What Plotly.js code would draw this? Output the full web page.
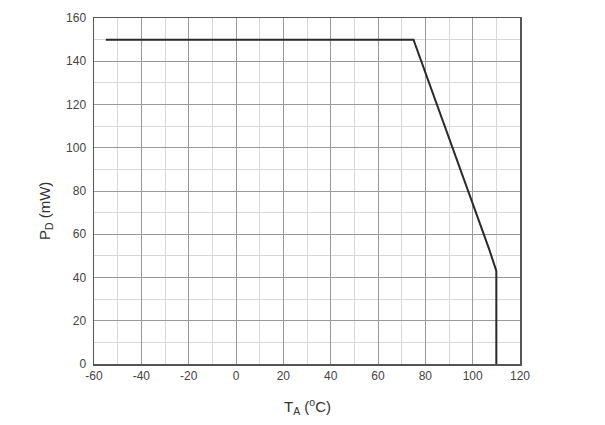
<!DOCTYPE html>
<html>
<head>
<meta charset="utf-8">
<script src="https://cdn.plot.ly/plotly-3.0.1.min.js"></script>
<style>html,body{margin:0;padding:0;background:#fff;}#chart{width:605px;height:425px;}</style>
</head>
<body>
<div id="chart"></div>
<script>
// Power dissipation derating curve
const temperatureC = [-55, 75, 107, 109.3, 110, 110];
const powerMW = [150, 150, 53, 46, 43, 0];
const xTicks = [-60, -40, -20, 0, 20, 40, 60, 80, 100, 120];
const yTicks = [0, 20, 40, 60, 80, 100, 120, 140, 160];
const xTitle = 'T<sub>A</sub> (<sup>o</sup>C)';
const yTitle = 'P<sub>D</sub> (mW)';

const trace = {
  x: temperatureC,
  y: powerMW,
  type: 'scatter',
  mode: 'lines',
  line: {color: '#2a2a2a', width: 2},
  hoverinfo: 'skip'
};

const fontFam = '"Liberation Sans", Arial, sans-serif';

const layout = {
  width: 605,
  height: 425,
  margin: {l: 94, r: 85, t: 18, b: 61},
  paper_bgcolor: '#ffffff',
  plot_bgcolor: '#ffffff',
  showlegend: false,
  font: {family: fontFam, size: 12, color: '#444'},
  xaxis: {
    range: [-60, 120],
    tickvals: xTicks,
    ticktext: xTicks.map(String),
    showgrid: true,
    gridcolor: '#9a9a9a',
    gridwidth: 1,
    minor: {dtick: 10, showgrid: true, gridcolor: '#d8d8d8', gridwidth: 1, ticks: ''},
    zeroline: false,
    showline: true,
    linecolor: '#555',
    linewidth: 1.5,
    mirror: true,
    ticks: '',
    tickfont: {family: fontFam, size: 12, color: '#444'}
  },
  yaxis: {
    range: [0, 160],
    tickvals: yTicks,
    ticktext: yTicks.map(String),
    showgrid: true,
    gridcolor: '#9a9a9a',
    gridwidth: 1,
    minor: {dtick: 10, showgrid: true, gridcolor: '#d8d8d8', gridwidth: 1, ticks: ''},
    zeroline: false,
    showline: true,
    linecolor: '#555',
    linewidth: 1.5,
    mirror: true,
    ticks: '',
    ticklabelstandoff: 4,
    tickfont: {family: fontFam, size: 12, color: '#444'}
  },
  annotations: [
    {
      text: xTitle, xref: 'paper', yref: 'paper', x: 0.5, y: -0.124,
      xanchor: 'center', yanchor: 'middle', showarrow: false,
      font: {family: fontFam, size: 15, color: '#333'}
    },
    {
      text: yTitle, xref: 'paper', yref: 'paper', x: -0.115, y: 0.442,
      xanchor: 'center', yanchor: 'middle', showarrow: false, textangle: -90,
      font: {family: fontFam, size: 15, color: '#333'}
    }
  ]
};

Plotly.newPlot('chart', [trace], layout, {displayModeBar: false, staticPlot: true});
</script>
</body>
</html>
